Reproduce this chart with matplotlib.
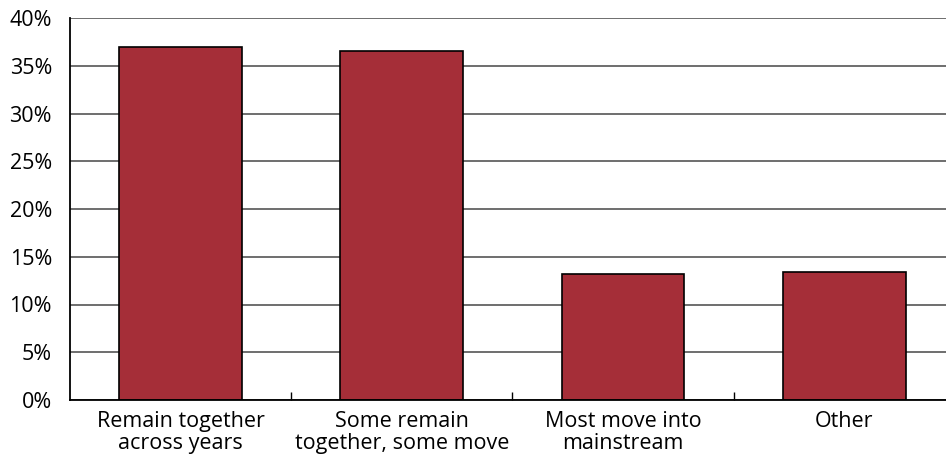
import matplotlib.pyplot as plt
from matplotlib.ticker import PercentFormatter, FixedLocator

categorias = ["Remain together\nacross years", "Some remain\ntogether, some move",
              "Most move into\nmainstream", "Other"]
valores = [37.0, 36.5, 13.2, 13.4]

plt.rcParams['font.family'] = ['Open Sans', 'DejaVu Sans']

fig = plt.figure(figsize=(9.46, 4.59), dpi=100)
ax = fig.add_axes([70 / 946, 59 / 459, 876 / 946, 382 / 459])

x = range(len(categorias))
ax.bar(x, valores, width=0.555, color='#a52e38', edgecolor='black', linewidth=1.2, zorder=3)

ax.set_xlim(-0.5, 3.46)
ax.set_ylim(0, 40)
ax.set_yticks(range(0, 41, 5))
ax.yaxis.set_major_formatter(PercentFormatter(decimals=0))
ax.yaxis.grid(True, color='#555555', linewidth=1.2, zorder=0)
ax.set_xticks(list(x))
ax.set_xticklabels(categorias, linespacing=1.05)
ax.xaxis.set_minor_locator(FixedLocator([0.5, 1.5, 2.5]))
ax.tick_params(axis='x', which='major', length=0, pad=8, labelsize=15.5)
ax.tick_params(axis='x', which='minor', length=6, direction='in', width=1)
ax.tick_params(axis='y', length=0, pad=13, labelsize=15.5)

for s in ['top', 'right']:
    ax.spines[s].set_visible(False)
for s in ['left', 'bottom']:
    ax.spines[s].set_linewidth(1.3)
    ax.spines[s].set_zorder(4)

fig.savefig('out.png', dpi=100)
